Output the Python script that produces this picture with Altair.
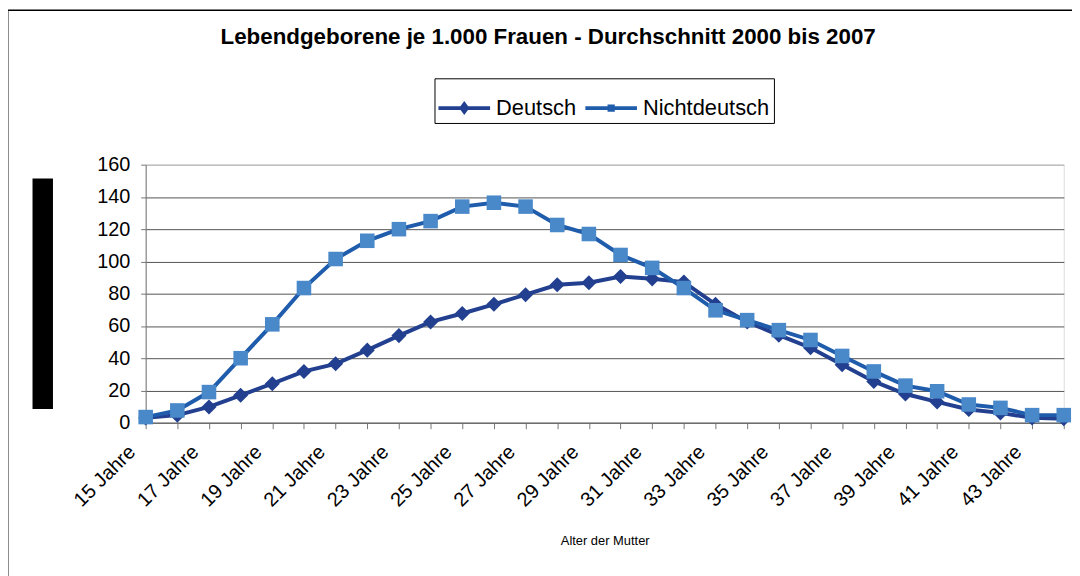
import altair as alt
import pandas as pd

# ---- data ----
categories = ["15 Jahre", "16 Jahre", "17 Jahre", "18 Jahre", "19 Jahre", "20 Jahre",
              "21 Jahre", "22 Jahre", "23 Jahre", "24 Jahre", "25 Jahre", "26 Jahre",
              "27 Jahre", "28 Jahre", "29 Jahre", "30 Jahre", "31 Jahre", "32 Jahre",
              "33 Jahre", "34 Jahre", "35 Jahre", "36 Jahre", "37 Jahre", "38 Jahre",
              "39 Jahre", "40 Jahre", "41 Jahre", "42 Jahre", "43 Jahre", "44 Jahre"]
labelled = ["15 Jahre", "17 Jahre", "19 Jahre", "21 Jahre", "23 Jahre", "25 Jahre",
            "27 Jahre", "29 Jahre", "31 Jahre", "33 Jahre", "35 Jahre", "37 Jahre",
            "39 Jahre", "41 Jahre", "43 Jahre"]
deutsch = [3.0, 4.7, 9.8, 17.0, 24.2, 31.8, 36.5, 45.0, 54.0, 62.5, 67.7, 73.4, 79.4,
           85.5, 86.8, 90.6, 89.2, 87.2, 73.4, 62.5, 54.3, 46.5, 35.9, 25.6, 17.8, 12.9,
           8.2, 6.1, 3.0, 2.5]
nichtdeutsch = [3.5, 7.6, 19.0, 40.0, 61.0, 83.5, 101.5, 112.8, 120.0, 125.0, 134.0,
                136.4, 134.0, 122.6, 117.0, 104.0, 96.0, 83.5, 69.7, 63.6, 57.4, 51.3,
                41.4, 31.8, 23.0, 19.5, 11.3, 9.2, 4.7, 4.7]
series = ["Deutsch", "Nichtdeutsch"]
line_colors = ["#22408F", "#1F5CAB"]
marker_colors = ["#22408F", "#4A89C9"]
marker_shapes = ["diamond", "square"]
legend_shapes = ["M-1,-0.075H1V0.075H-1Z M0,-0.27L0.2,0L0,0.27L-0.2,0Z",
                 "M-1,-0.075H1V0.075H-1Z M-0.14,-0.14H0.14V0.14H-0.14Z"]

rows = []
for name, vals in zip(series, [deutsch, nichtdeutsch]):
    for c, v in zip(categories, vals):
        rows.append({"Alter": c, "Wert": v, "Serie": name})
df = pd.DataFrame(rows)

FONT = "Liberation Sans"
W, H = 925, 260

xenc = alt.X("Alter:N", sort=categories,
             scale=alt.Scale(type="point", padding=0),
             axis=alt.Axis(title="Alter der Mutter", titleFont=FONT, titleFontSize=13,
                           titleFontWeight="normal", titleColor="#000", titleY=119,
                           titleBaseline="middle",
                           labelExpr="indexof(%s, datum.value) >= 0 ? datum.value : ''" % str(labelled),
                           labelAngle=-45, labelAlign="right", labelBaseline="middle",
                           labelFont=FONT, labelFontSize=20, labelColor="#000",
                           labelOffset=-14, labelPadding=20, labelOverlap=False,
                           tickSize=6, tickColor="#777", domainColor="#666",
                           grid=False))
yenc = alt.Y("Wert:Q",
             scale=alt.Scale(domain=[0, 160], nice=False),
             axis=alt.Axis(title=None, values=[0, 20, 40, 60, 80, 100, 120, 140, 160],
                           labelFont=FONT, labelFontSize=20, labelColor="#000",
                           labelPadding=11, tickSize=5, tickColor="#777",
                           domainColor="#777",
                           gridColor=alt.condition(alt.datum.value == 160,
                                                   alt.value("#A6A6A6"), alt.value("#555555")),
                           gridWidth=1))

legend = alt.Legend(
    title=None, orient="none", legendX=291, legendY=-87, direction="horizontal",
    strokeColor="#000", fillColor="#fff", padding=4,
    labelFont=FONT, labelFontSize=22, labelColor="#000", labelOffset=6,
    columnPadding=9, symbolSize=2704, symbolStrokeWidth=0, symbolOpacity=1)

layers = []
# outer frame (decoration)
frame = alt.Chart(pd.DataFrame({"a": [0]})).mark_rect(
    filled=False, stroke="#000", strokeWidth=1.5).encode(
    x=alt.value(-139), y=alt.value(-155.5), x2=alt.value(2000), y2=alt.value(2000))
# black box covering the y axis title (decoration)
box = alt.Chart(pd.DataFrame({"a": [0]})).mark_rect(fill="#000").encode(
    x=alt.value(-114), x2=alt.value(-93.4), y=alt.value(14), y2=alt.value(246.3))
layers += [frame, box]

for i, name in enumerate(series):
    base = alt.Chart(df).transform_filter(alt.datum.Serie == name)
    ln = base.mark_line(strokeWidth=4, stroke=line_colors[i]).encode(x=xenc, y=yenc)
    pt = base.mark_point(shape=marker_shapes[i], filled=True, opacity=1,
                         fill=marker_colors[i], size=230 if i == 0 else 215,
                         strokeWidth=0).encode(x=xenc, y=yenc)
    layers += [ln, pt]

# invisible layer that only feeds the legend
leg = alt.Chart(df).mark_point(filled=True, opacity=0, strokeWidth=0).encode(
    x=xenc, y=yenc,
    fill=alt.Color("Serie:N", scale=alt.Scale(domain=series, range=line_colors), legend=legend),
    shape=alt.Shape("Serie:N", scale=alt.Scale(domain=series, range=legend_shapes), legend=legend))
layers.append(leg)

chart = alt.layer(*layers).properties(
    width=W, height=H,
    title=alt.TitleParams("Lebendgeborene je 1.000 Frauen - Durchschnitt 2000 bis 2007",
                          font=FONT, fontSize=22.5, fontWeight="bold", color="#000",
                          anchor="middle", dx=-57, offset=-57, baseline="alphabetic"),
    autosize=alt.AutoSizeParams(type="none"),
    padding={"left": 138.7, "top": 155.7, "right": 8.3, "bottom": 152.3},
).configure_view(stroke="#A6A6A6", strokeWidth=1.5).configure(background="#ffffff")

chart.save("out.html", embed_options={"renderer": "svg", "actions": False})
